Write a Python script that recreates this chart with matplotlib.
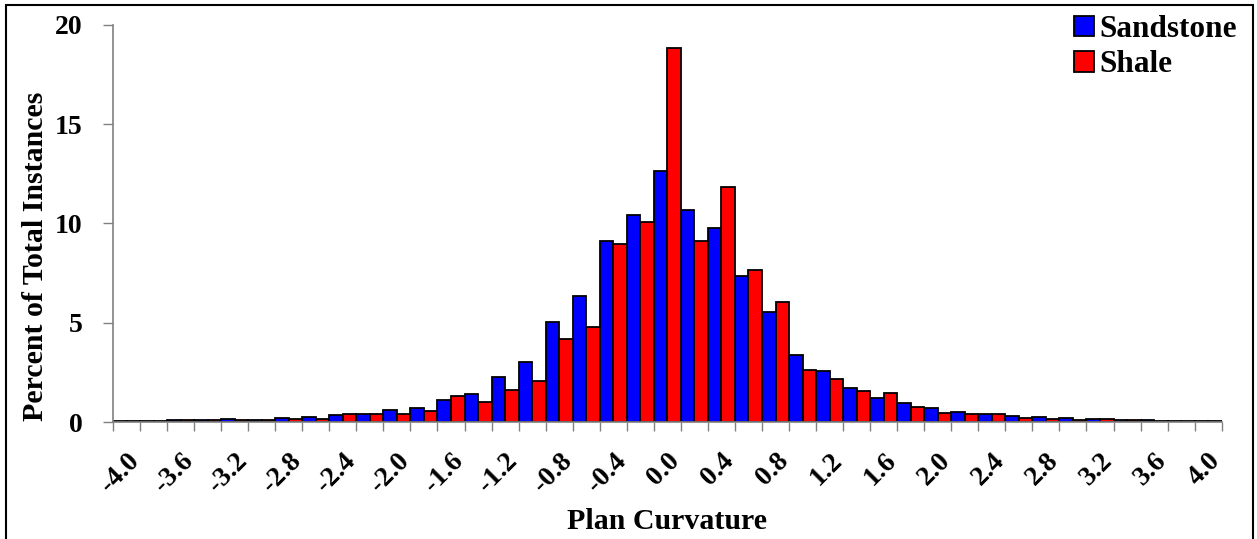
import matplotlib.pyplot as plt
import numpy as np
from matplotlib.patches import Rectangle

plt.rcParams['font.family'] = ['Liberation Serif', 'DejaVu Serif']
plt.rcParams['font.weight'] = 'bold'

# bin centres of plan curvature, -4.0 .. 4.0 step 0.2
curv = ['-4.0', '-3.8', '-3.6', '-3.4', '-3.2', '-3.0', '-2.8', '-2.6', '-2.4', '-2.2',
        '-2.0', '-1.8', '-1.6', '-1.4', '-1.2', '-1.0', '-0.8', '-0.6', '-0.4', '-0.2',
        '0.0', '0.2', '0.4', '0.6', '0.8', '1.0', '1.2', '1.4', '1.6', '1.8',
        '2.0', '2.2', '2.4', '2.6', '2.8', '3.0', '3.2', '3.4', '3.6', '3.8', '4.0']

sandstone = [0.05, 0.03, 0.08, 0.08, 0.17, 0.10, 0.20, 0.27, 0.33, 0.40,
             0.62, 0.72, 1.12, 1.43, 2.28, 3.02, 5.02, 6.33, 9.11, 10.40,
             12.62, 10.69, 9.78, 7.35, 5.55, 3.38, 2.57, 1.72, 1.21, 0.96,
             0.70, 0.50, 0.39, 0.29, 0.24, 0.22, 0.17, 0.12, 0.08, 0.05, 0.06]

shale = [0.04, 0.03, 0.08, 0.08, 0.08, 0.12, 0.14, 0.17, 0.38, 0.40,
         0.39, 0.57, 1.31, 1.00, 1.61, 2.06, 4.19, 4.76, 8.97, 10.05,
         18.82, 9.13, 11.84, 7.63, 6.02, 2.62, 2.16, 1.54, 1.46, 0.77,
         0.44, 0.42, 0.40, 0.22, 0.15, 0.10, 0.15, 0.10, 0.06, 0.04, 0.04]

x = np.arange(len(curv))
w = 0.5

fig = plt.figure(figsize=(12.57, 5.39), dpi=100)
ax = fig.add_axes([0.0899, 0.217, 0.882, 0.737])

ax.bar(x - w / 2, sandstone, width=w, color='#0000ff', edgecolor='black', linewidth=1.3, label='Sandstone')
ax.bar(x + w / 2, shale, width=w, color='#ff0000', edgecolor='black', linewidth=1.3, label='Shale')

ax.set_xlim(-0.5, len(curv) - 0.5)
ax.set_ylim(0, 20)
ax.set_yticks([0, 5, 10, 15, 20])
ax.tick_params(axis='y', labelsize=20, length=7, width=1, color='#808080', direction='out', pad=15)

# labels on every other bin, tick marks between bins
ax.set_xticks(x[::2])
ax.set_xticklabels(curv[::2], rotation=45, ha='right', rotation_mode='anchor', fontsize=20)
ax.tick_params(axis='x', which='major', length=0, pad=19)
ax.set_xticks(np.arange(-0.5, len(curv), 1), minor=True)
ax.tick_params(axis='x', which='minor', length=6.5, width=1, color='#808080', direction='out')

for s in ['top', 'right']:
    ax.spines[s].set_visible(False)
for s in ['left', 'bottom']:
    ax.spines[s].set_color('#808080')
    ax.spines[s].set_linewidth(1.2)

ax.set_xlabel('Plan Curvature', fontsize=21.5, fontweight='bold', va='center')
ax.xaxis.set_label_coords(0.5, -0.25)
ax.set_ylabel('Percent of Total Instances', fontsize=21.5, fontweight='bold', va='center')
ax.yaxis.set_label_coords(-0.07, 0.418)

fig.legend(loc='upper left', bbox_to_anchor=(1074 / 1257, 1 - 15 / 539), frameon=False, fontsize=22.5,
           handlelength=0.65, handleheight=0.65, handletextpad=0.15, labelspacing=0.2,
           borderaxespad=0, borderpad=0)

# outer frame
fig.patches.append(Rectangle((0.005, -0.01), 0.992, 1.0, transform=fig.transFigure,
                             fill=False, edgecolor='black', linewidth=1.5))

fig.savefig('out.png', dpi=100)
